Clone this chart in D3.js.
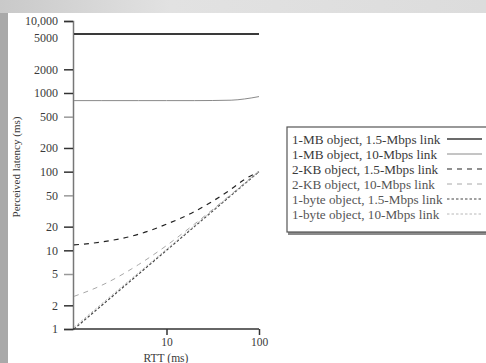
<!DOCTYPE html>
<html>
<head>
<meta charset="utf-8">
<script src="https://cdn.jsdelivr.net/npm/d3@7"></script>
<style>
  html, body { margin: 0; padding: 0; background: #fff; }
  svg { display: block; }
  text { font-family: "Liberation Serif", "DejaVu Serif", serif; fill: #3a3a3a; }
</style>
</head>
<body>
<div id="chart"></div>
<script>
// RTT values (ms) along the x axis
const rtt = [1, 2, 5, 10, 20, 50, 70, 100];

// perceived latency (ms) for each series
const mb15 = [5880, 5880, 5880, 5880, 5880, 5890, 5900, 5900];
const mb10 = [800, 800, 800, 800, 800, 810, 840, 900];
const kb15 = [11.7, 12.8, 16, 21.5, 31, 60, 80, 100];
const kb10 = [2.6, 3.6, 6.6, 11.5, 21.5, 51.5, 71.5, 101];
const b15 = [1, 2, 5, 10, 20, 50, 70, 100];
const b10 = [1.05, 2.1, 5.2, 10.3, 20.5, 51, 71, 101];

const seriesNames = [
  '1-MB object, 1.5-Mbps link',
  '1-MB object, 10-Mbps link',
  '2-KB object, 1.5-Mbps link',
  '2-KB object, 10-Mbps link',
  '1-byte object, 1.5-Mbps link',
  '1-byte object, 10-Mbps link'
];

const yTicks = [1, 2, 5, 10, 20, 50, 100, 200, 500, 1000, 2000, 5000, 10000];
const xTicks = [10, 100];

const width = 486, height = 363;

const svg = d3.select('#chart').append('svg')
  .attr('width', width)
  .attr('height', height);

// scanned-slide background: grey band on top, grey strip on the left
const defs = svg.append('defs');
const band = defs.append('linearGradient').attr('id', 'band');
band.append('stop').attr('offset', '0%').attr('stop-color', '#c9c9c9');
band.append('stop').attr('offset', '35%').attr('stop-color', '#e2e2e2');
band.append('stop').attr('offset', '100%').attr('stop-color', '#dcdcdc');
svg.append('rect').attr('x', 0).attr('y', 0).attr('width', width).attr('height', 13).attr('fill', 'url(#band)');
svg.append('rect').attr('x', 0).attr('y', 13).attr('width', 8).attr('height', height - 13).attr('fill', '#a9a9a9');

// y scale as printed: the 10,000 tick sits closer than a true decade
const y = d3.scaleLog().domain([1, 5000, 10000]).range([329, 38, 21]);
const x = d3.scaleLog().domain([1, 100]).range([74, 259]);

// y axis
const yAxis = svg.append('g')
  .attr('transform', 'translate(73,0)')
  .call(d3.axisLeft(y).tickValues(yTicks).tickSize(9).tickPadding(6)
    .tickFormat(d => d === 10000 ? '10,000' : d3.format('d')(d)));
yAxis.select('.domain').attr('stroke', '#777').attr('stroke-width', 1.5);
yAxis.selectAll('.tick line')
  .attr('stroke', d => d === 5000 ? 'none' : ([5, 50, 500].includes(d) ? '#999' : '#333'))
  .attr('stroke-width', 1.5);
yAxis.selectAll('.tick text')
  .style('font-family', '"Liberation Serif", serif')
  .style('font-size', '12px')
  .style('fill', '#3a3a3a');

// x axis
const xAxis = svg.append('g')
  .attr('transform', 'translate(0,329)')
  .call(d3.axisBottom(x).tickValues(xTicks).tickSize(6).tickPadding(3).tickFormat(d3.format('d')));
xAxis.select('.domain').attr('stroke', '#333').attr('stroke-width', 1.6).attr('d', 'M73,0H259');
xAxis.selectAll('.tick line').attr('stroke', '#333').attr('stroke-width', 1.5);
xAxis.selectAll('.tick text')
  .style('font-family', '"Liberation Serif", serif')
  .style('font-size', '11.5px')
  .style('fill', '#3a3a3a');

// axis titles
svg.append('text')
  .attr('transform', 'translate(20,167) rotate(-90)')
  .attr('text-anchor', 'middle')
  .style('font-size', '11px')
  .text('Perceived latency (ms)');

svg.append('text')
  .attr('x', 166).attr('y', 362)
  .attr('text-anchor', 'middle')
  .style('font-size', '11.5px')
  .text('RTT (ms)');

// line styles per series
const styles = [
  { stroke: '#3a3a3a', width: 2, dash: null },
  { stroke: '#8a8a8a', width: 1, dash: null },
  { stroke: '#222', width: 1.2, dash: '5,5' },
  { stroke: '#a8a8a8', width: 1, dash: '5,5' },
  { stroke: '#444', width: 1.2, dash: '2.5,2' },
  { stroke: '#b8b8b8', width: 1, dash: '2.5,2' }
];
const allSeries = [mb15, mb10, kb15, kb10, b15, b10];

const line = d3.line()
  .x((d, i) => x(rtt[i]))
  .y(d => y(d))
  .curve(d3.curveMonotoneX);

svg.append('g').selectAll('path')
  .data(allSeries)
  .enter()
  .append('path')
  .attr('d', line)
  .attr('fill', 'none')
  .attr('stroke', (d, i) => styles[i].stroke)
  .attr('stroke-width', (d, i) => styles[i].width)
  .attr('stroke-dasharray', (d, i) => styles[i].dash);

// legend
const legend = svg.append('g');
legend.append('rect')
  .attr('x', 288).attr('y', 130).attr('width', 210).attr('height', 105)
  .attr('fill', '#8a8a8a');
legend.append('rect')
  .attr('x', 287).attr('y', 127).attr('width', 210).attr('height', 105)
  .attr('fill', '#fff').attr('stroke', '#555').attr('stroke-width', 1.2);

const rowY = d3.scalePoint().domain(seriesNames).range([139, 214]);

const rows = legend.selectAll('g.row')
  .data(seriesNames)
  .enter()
  .append('g')
  .attr('class', 'row')
  .attr('transform', d => `translate(0,${rowY(d)})`);

rows.append('text')
  .attr('x', 292).attr('dy', '0.35em')
  .style('font-size', '13.2px')
  .style('fill', (d, i) => i < 3 ? '#3a3a3a' : '#555')
  .text(d => d);

rows.append('line')
  .attr('x1', 447).attr('x2', 482)
  .attr('stroke', (d, i) => styles[i].stroke)
  .attr('stroke-width', (d, i) => Math.min(styles[i].width, 1.3))
  .attr('stroke-dasharray', (d, i) => styles[i].dash);
</script>
</body>
</html>
